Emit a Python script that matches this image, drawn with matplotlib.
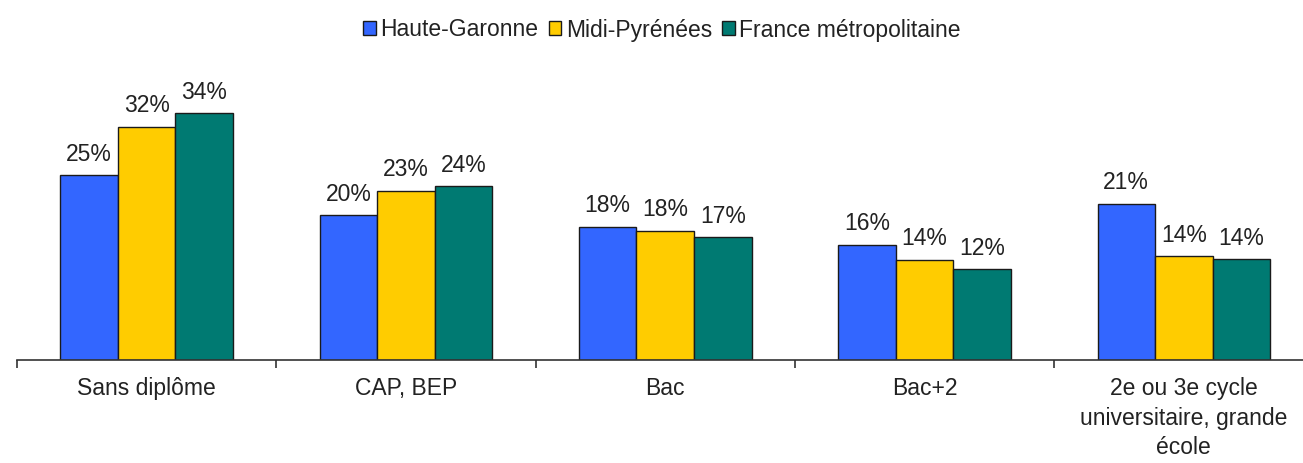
import matplotlib
matplotlib.use("Agg")
import matplotlib.pyplot as plt
import numpy as np

categories = ["Sans diplôme", "CAP, BEP", "Bac", "Bac+2",
              "2e ou 3e cycle\nuniversitaire, grande\nécole"]
series_names = ["Haute-Garonne", "Midi-Pyrénées", "France métropolitaine"]
haute_garonne = [25.3, 19.8, 18.2, 15.8, 21.4]
midi_pyrenees = [31.9, 23.2, 17.7, 13.7, 14.2]
france_metro = [33.8, 23.8, 16.8, 12.4, 13.8]
colors = ["#3366FF", "#FFCC00", "#007A72"]

plt.rcParams["font.family"] = ["Liberation Sans", "DejaVu Sans"]
text_color = "#222222"

W, H = 1303, 463
fig = plt.figure(figsize=(W / 100, H / 100), dpi=100)
ax = fig.add_axes([17 / W, (H - 360) / H, 1296.5 / W, 292 / H])

x = np.arange(len(categories))
bw = 0.222
all_series = [haute_garonne, midi_pyrenees, france_metro]
for i, (vals, name, col) in enumerate(zip(all_series, series_names, colors)):
    pos = x + (i - 1) * bw
    bars = ax.bar(pos, vals, width=bw, color=col, edgecolor="#1a1a1a",
                  linewidth=1.0, label=name, zorder=2)
    for b, v in zip(bars, vals):
        ax.annotate(f"{v:.0f}%", (b.get_x() + b.get_width() / 2, v),
                    xytext=(0, 7), textcoords="offset points",
                    ha="center", va="bottom", fontsize=16.5, color=text_color)

ax.set_xlim(-0.5, len(categories) - 0.5)
ax.set_ylim(0, 40)
for s in ["top", "right", "left"]:
    ax.spines[s].set_visible(False)
ax.spines["bottom"].set_color("#333333")
ax.spines["bottom"].set_linewidth(1.2)
ax.set_yticks([])

ax.set_xticks(x)
ax.set_xticklabels(categories, fontsize=16.5, color=text_color, linespacing=1.38,
                   va="top")
ax.tick_params(axis="x", which="major", length=0, pad=12)
ax.set_xticks(np.arange(-0.5, len(categories), 1.0), minor=True)
ax.tick_params(axis="x", which="minor", length=6, width=1.2, color="#333333",
               direction="out")

fig.legend(loc="center", bbox_to_anchor=(662 / W, 1 - 30 / H), ncol=3,
           frameon=False, fontsize=16.5, handlelength=0.55, handleheight=0.55,
           handletextpad=0.2, columnspacing=0.45, labelcolor=text_color,
           borderaxespad=0)

fig.savefig("out.png", dpi=100)
